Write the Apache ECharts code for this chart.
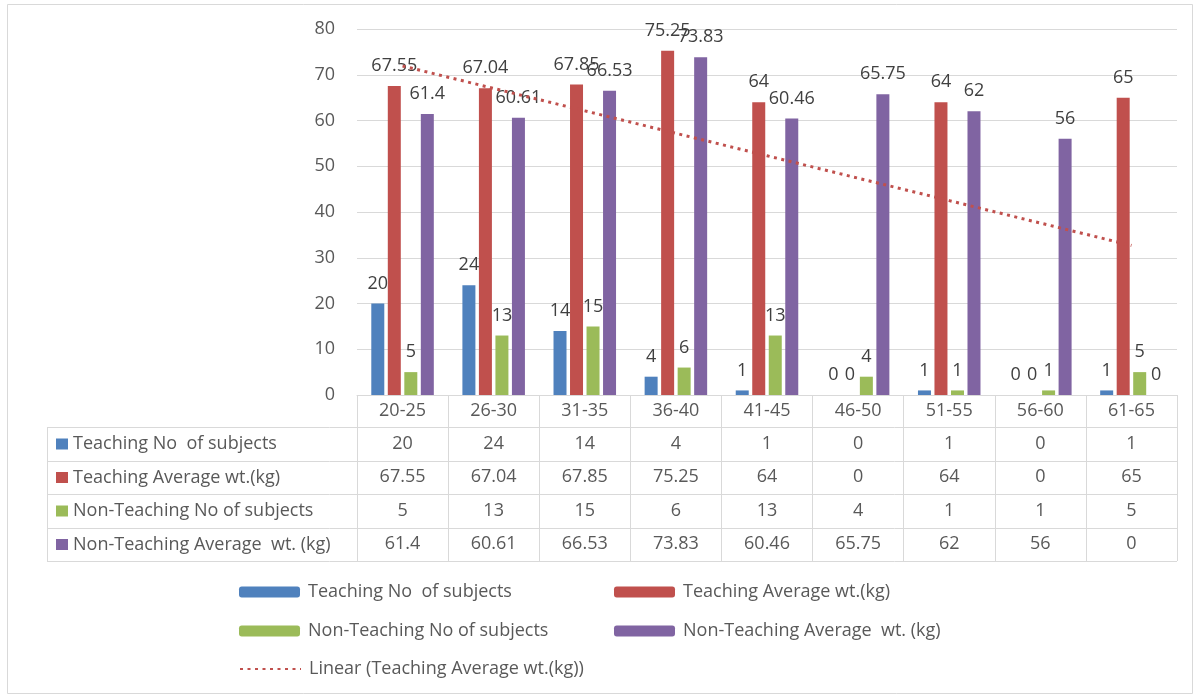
<!DOCTYPE html>
<html>
<head>
<meta charset="utf-8">
<script src="https://cdn.jsdelivr.net/npm/echarts@6/dist/echarts.min.js"></script>
<style>
html,body{margin:0;padding:0;background:#fff;}
#chart{width:1195px;height:697px;}
</style>
</head>
<body>
<div id="chart"></div>
<script>
const categories = ['20-25','26-30','31-35','36-40','41-45','46-50','51-55','56-60','61-65'];
const teachNo = [20,24,14,4,1,0,1,0,1];
const teachAvg = [67.55,67.04,67.85,75.25,64,0,64,0,65];
const nonTeachNo = [5,13,15,6,13,4,1,1,5];
const nonTeachAvg = [61.4,60.61,66.53,73.83,60.46,65.75,62,56,0];
const seriesNames = ['Teaching No  of subjects','Teaching Average wt.(kg)','Non-Teaching No of subjects','Non-Teaching Average  wt. (kg)'];
const trendName = 'Linear (Teaching Average wt.(kg))';
const yMin = 0, yMax = 80, yStep = 10;

const colors = ['#4F81BD','#C0504D','#9BBB59','#8064A2'];
const FONT = 'Open Sans';
const FS = 18;
const TXT = '#595959';
const LBL = '#404040';
const GRIDC = '#d9d9d9';

// Excel-style linear trendline (least squares over category index)
function linearTrend(vals){
  const n = vals.length;
  let sx=0, sy=0;
  vals.forEach((v,i)=>{sx+=i+1; sy+=v;});
  const mx=sx/n, my=sy/n;
  let sxy=0, sxx=0;
  vals.forEach((v,i)=>{sxy+=(i+1-mx)*(v-my); sxx+=(i+1-mx)*(i+1-mx);});
  const b=sxy/sxx, a=my-b*mx;
  return vals.map((v,i)=>+(a+b*(i+1)).toFixed(3));
}
const trend = linearTrend(teachAvg);

const seriesData = [teachNo, teachAvg, nonTeachNo, nonTeachAvg];

// layout
const gridL = 357, gridR = 1177, gridT = 29, gridB = 395;
const tableL = 47;
const rowLines = [427, 461, 494, 528, 561];
const rowOffsets = [33, 66.5, 100, 133.5];

const chart = echarts.init(document.getElementById('chart'));

const xAxes = [{
  type:'category', data:categories, gridIndex:0, position:'bottom',
  axisLine:{show:true, lineStyle:{color:GRIDC, width:1}},
  axisTick:{show:true, length: rowLines[rowLines.length-1]-gridB, lineStyle:{color:GRIDC, width:1}},
  axisLabel:{color:TXT, fontSize:FS, fontFamily:FONT, margin:6.5}
}];
seriesData.forEach((arr,k)=>{
  xAxes.push({
    type:'category', data:categories, gridIndex:0, position:'bottom', offset:rowOffsets[k],
    axisLine:{show:false}, axisTick:{show:false}, splitLine:{show:false},
    axisLabel:{color:TXT, fontSize:FS, fontFamily:FONT, margin:6.5, interval:0,
      formatter:(v,idx)=>String(arr[idx])}
  });
});

const series = seriesData.map((arr,k)=>({
  name:seriesNames[k], type:'bar', data:arr, xAxisIndex:0, yAxisIndex:0,
  barWidth:13, barGap:'27%',
  itemStyle:{color:colors[k]},
  label:{show:true, position:'top', distance:11, color:LBL, fontSize:FS, fontFamily:FONT},
  z:2
}));
series.push({
  name:trendName, type:'line', data:trend, xAxisIndex:0, yAxisIndex:0,
  symbol:'none', showSymbol:false, silent:true, z:5,
  lineStyle:{color:'#C0504D', width:3, type:[3,4.5], cap:'butt'},
  itemStyle:{color:'#C0504D'}
});

// table graphics
const graphics = [];
graphics.push({type:'rect', shape:{x:7.5,y:4.5,width:1185,height:689}, style:{fill:null, stroke:GRIDC, lineWidth:1}, silent:true});
rowLines.forEach(y=>{
  graphics.push({type:'line', shape:{x1:tableL, y1:y+0.5, x2:gridR, y2:y+0.5}, style:{stroke:GRIDC, lineWidth:1}, silent:true});
});
graphics.push({type:'line', shape:{x1:tableL+0.5, y1:rowLines[0], x2:tableL+0.5, y2:rowLines[rowLines.length-1]}, style:{stroke:GRIDC, lineWidth:1}, silent:true});
seriesNames.forEach((nm,k)=>{
  const cy = (rowLines[k]+rowLines[k+1])/2;
  graphics.push({type:'rect', shape:{x:56, y:cy-5.5, width:12, height:11}, style:{fill:colors[k]}, silent:true});
  graphics.push({type:'text', x:73, y:cy, style:{text:nm, fill:TXT, font:FS+'px "'+FONT+'"', textVerticalAlign:'middle', textAlign:'left'}, silent:true});
});

// legends (two columns, three rows)
const legendPos = [[239,583],[614,583],[239,622],[614,622],[239,660]];
const legendNames = seriesNames.concat([trendName]);
const legends = legendNames.map((nm,i)=>{
  const lg = {
    data:[nm], left:legendPos[i][0], top:legendPos[i][1], padding:0,
    itemWidth:61, itemHeight:11, itemGap:0, selectedMode:false,
    textStyle:{color:TXT, fontSize:FS, fontFamily:FONT, padding:[0,0,0,3]}
  };
  if (i === 4) {
    lg.data = [{name:nm, itemStyle:{opacity:0}}];
  }
  return lg;
});

chart.setOption({
  animation:false,
  backgroundColor:'#fff',
  color:colors,
  grid:{left:gridL, right:1195-gridR, top:gridT, bottom:697-gridB, containLabel:false},
  xAxis:xAxes,
  yAxis:{type:'value', min:yMin, max:yMax, interval:yStep,
    axisLine:{show:false}, axisTick:{show:false},
    axisLabel:{color:TXT, fontSize:FS, fontFamily:FONT, margin:22},
    splitLine:{lineStyle:{color:GRIDC, width:1}}},
  legend:legends,
  series:series,
  graphic:graphics
});
</script>
</body>
</html>
